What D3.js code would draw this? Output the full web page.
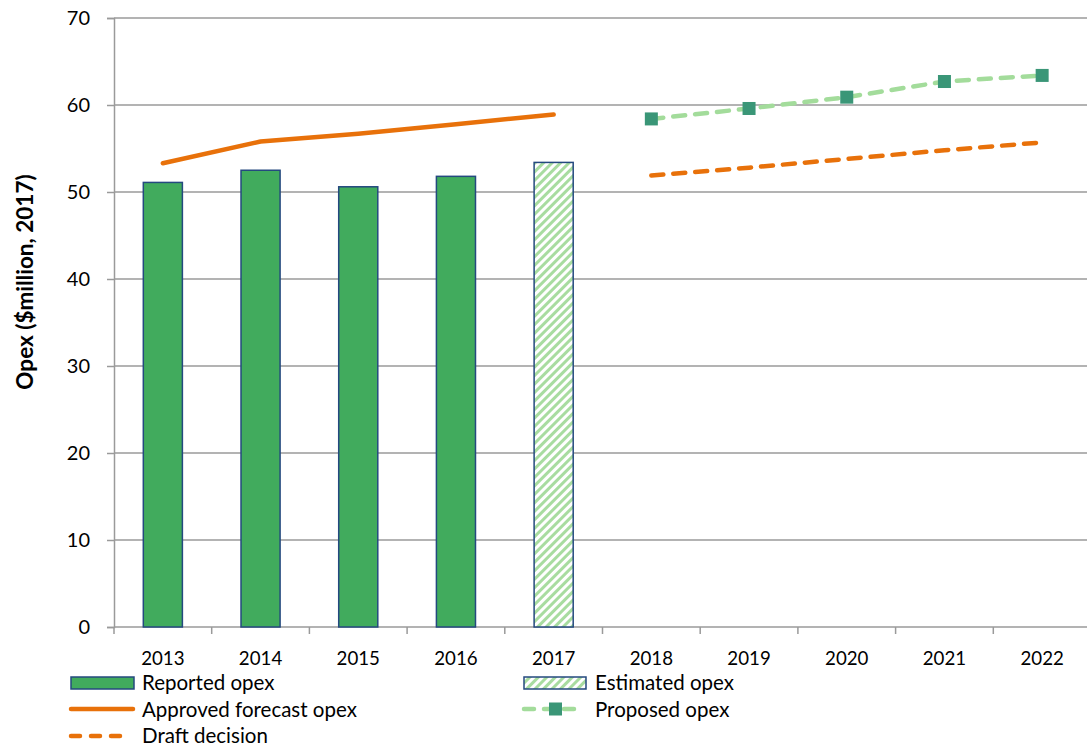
<!DOCTYPE html>
<html>
<head>
<meta charset="utf-8">
<script src="https://cdn.jsdelivr.net/npm/d3@7"></script>
<style>
  html, body { margin: 0; padding: 0; background: #fff; }
  svg { display: block; font-family: Lato, "Open Sans", sans-serif; }
</style>
</head>
<body>
<svg id="chart" width="1087" height="747"></svg>
<script>
// Opex history and forecasts, $million (2017)
const years = ["2013", "2014", "2015", "2016", "2017", "2018", "2019", "2020", "2021", "2022"];
const reportedYears = ["2013", "2014", "2015", "2016"];
const reportedOpex = [51.1, 52.5, 50.6, 51.8];
const estimatedYears = ["2017"];
const estimatedOpex = [53.4];
const approvedYears = ["2013", "2014", "2015", "2016", "2017"];
const approvedOpex = [53.3, 55.8, 56.7, 57.8, 58.9];
const proposedYears = ["2018", "2019", "2020", "2021", "2022"];
const proposedOpex = [58.4, 59.6, 60.9, 62.7, 63.4];
const draftYears = ["2018", "2019", "2020", "2021", "2022"];
const draftOpex = [51.9, 52.8, 53.8, 54.8, 55.7];
const yTicks = [0, 10, 20, 30, 40, 50, 60, 70];

const svg = d3.select("#chart");
const W = 1087, H = 747;
const plotLeft = 114, plotRight = 1091, plotTop = 18, plotBottom = 627;

const x = d3.scaleBand().domain(years).range([plotLeft, plotRight]).paddingInner(0.6).paddingOuter(0.3);
const xc = d => x(d) + x.bandwidth() / 2;
const y = d3.scaleLinear().domain([0, 70]).range([plotBottom, plotTop]);

const colors = {
  bar: "#41ab5d",
  barStroke: "#24497f",
  hatch: "#a8dca0",
  orange: "#e8710a",
  proposed: "#a3dc9b",
  marker: "#3a9677",
  grid: "#9a9a9a"
};

// hatch pattern for the estimated bar
const defs = svg.append("defs");
const pat = defs.append("pattern")
  .attr("id", "hatch").attr("patternUnits", "userSpaceOnUse")
  .attr("width", 6).attr("height", 6)
  .attr("patternTransform", "rotate(45)");
pat.append("rect").attr("width", 6).attr("height", 6).attr("fill", "#fff");
pat.append("rect").attr("width", 3).attr("height", 6).attr("fill", colors.hatch);

// gridlines
svg.append("g").selectAll("line").data(yTicks.filter(t => t > 0)).join("line")
  .attr("x1", plotLeft).attr("x2", W)
  .attr("y1", d => y(d)).attr("y2", d => y(d))
  .attr("stroke", colors.grid).attr("stroke-width", 1.5);

// y axis
const yAxis = svg.append("g").attr("transform", `translate(${plotLeft},0)`)
  .call(d3.axisLeft(y).tickValues(yTicks).tickSize(7).tickPadding(17).tickFormat(d3.format("d")));
yAxis.select(".domain").attr("stroke", colors.grid).attr("stroke-width", 1.5);
yAxis.selectAll(".tick line").attr("stroke", colors.grid).attr("stroke-width", 1.5);
yAxis.selectAll("text").attr("font-size", 20).attr("fill", "#000").attr("font-family", "Lato, sans-serif");

// x axis with ticks at category boundaries
const baseY = y(0);
svg.append("line").attr("x1", plotLeft).attr("x2", W)
  .attr("y1", baseY).attr("y2", baseY).attr("stroke", colors.grid).attr("stroke-width", 1.5);
const step = x.step();
const bounds = years.map(d => xc(d) - step / 2).concat([xc(years[years.length - 1]) + step / 2]);
svg.append("g").selectAll("line").data(bounds).join("line")
  .attr("x1", d => d).attr("x2", d => d).attr("y1", baseY).attr("y2", baseY + 7)
  .attr("stroke", colors.grid).attr("stroke-width", 1.5);
svg.append("g").selectAll("text").data(years).join("text")
  .attr("x", d => xc(d)).attr("y", baseY + 38)
  .attr("text-anchor", "middle").attr("font-size", 18.7).attr("fill", "#000")
  .text(d => d);

// y axis title
svg.append("text")
  .attr("transform", `translate(33,282) rotate(-90)`)
  .attr("text-anchor", "middle").attr("font-size", 22.5).attr("font-weight", "bold")
  .text("Opex ($million, 2017)");

// bars
svg.append("g").selectAll("rect").data(reportedYears.map((d, i) => ({ k: d, v: reportedOpex[i] }))).join("rect")
  .attr("x", d => x(d.k)).attr("width", x.bandwidth())
  .attr("y", d => y(d.v)).attr("height", d => baseY - y(d.v))
  .attr("fill", colors.bar).attr("stroke", colors.barStroke).attr("stroke-width", 1.5);
svg.append("g").selectAll("rect").data(estimatedYears.map((d, i) => ({ k: d, v: estimatedOpex[i] }))).join("rect")
  .attr("x", d => x(d.k)).attr("width", x.bandwidth())
  .attr("y", d => y(d.v)).attr("height", d => baseY - y(d.v))
  .attr("fill", "url(#hatch)").attr("stroke", colors.barStroke).attr("stroke-width", 1.5);

// lines
const line = d3.line().x(d => xc(d.k)).y(d => y(d.v));
const pts = (ks, vs) => ks.map((k, i) => ({ k, v: vs[i] }));

svg.append("path").datum(pts(approvedYears, approvedOpex))
  .attr("d", line).attr("fill", "none").attr("stroke", colors.orange)
  .attr("stroke-width", 4.5).attr("stroke-linecap", "round").attr("stroke-linejoin", "round");

svg.append("path").datum(pts(draftYears, draftOpex))
  .attr("d", line).attr("fill", "none").attr("stroke", colors.orange)
  .attr("stroke-width", 4.5).attr("stroke-linecap", "round").attr("stroke-dasharray", "12,10");

svg.append("path").datum(pts(proposedYears, proposedOpex))
  .attr("d", line).attr("fill", "none").attr("stroke", colors.proposed)
  .attr("stroke-width", 4.5).attr("stroke-linecap", "round").attr("stroke-dasharray", "12,10");

svg.append("g").selectAll("rect").data(pts(proposedYears, proposedOpex)).join("rect")
  .attr("x", d => xc(d.k) - 6.5).attr("y", d => y(d.v) - 6.5)
  .attr("width", 13).attr("height", 13).attr("fill", colors.marker);

// legend
const lg = svg.append("g").attr("font-size", 20.5).attr("fill", "#000");
function legendText(xp, yp, t) {
  lg.append("text").attr("x", xp).attr("y", yp).text(t);
}
// Reported opex
lg.append("rect").attr("x", 71).attr("y", 677).attr("width", 63).attr("height", 12)
  .attr("fill", colors.bar).attr("stroke", colors.barStroke).attr("stroke-width", 1.5);
legendText(142, 690, "Reported opex");
// Estimated opex
lg.append("rect").attr("x", 524).attr("y", 677).attr("width", 62).attr("height", 12)
  .attr("fill", "url(#hatch)").attr("stroke", colors.barStroke).attr("stroke-width", 1.5);
legendText(595, 690, "Estimated opex");
// Approved forecast opex
lg.append("line").attr("x1", 71).attr("x2", 133).attr("y1", 709).attr("y2", 709)
  .attr("stroke", colors.orange).attr("stroke-width", 4.5).attr("stroke-linecap", "round");
legendText(142, 716.5, "Approved forecast opex");
// Proposed opex
lg.append("line").attr("x1", 524).attr("x2", 579).attr("y1", 709).attr("y2", 709)
  .attr("stroke", colors.proposed).attr("stroke-width", 4.5).attr("stroke-linecap", "round")
  .attr("stroke-dasharray", "10,10");
lg.append("rect").attr("x", 549).attr("y", 702.5).attr("width", 13).attr("height", 13).attr("fill", colors.marker);
legendText(595, 716.5, "Proposed opex");
// Draft decision
lg.append("line").attr("x1", 71).attr("x2", 127).attr("y1", 736).attr("y2", 736)
  .attr("stroke", colors.orange).attr("stroke-width", 4.5).attr("stroke-linecap", "round")
  .attr("stroke-dasharray", "9,11");
legendText(142, 743, "Draft decision");
</script>
</body>
</html>
